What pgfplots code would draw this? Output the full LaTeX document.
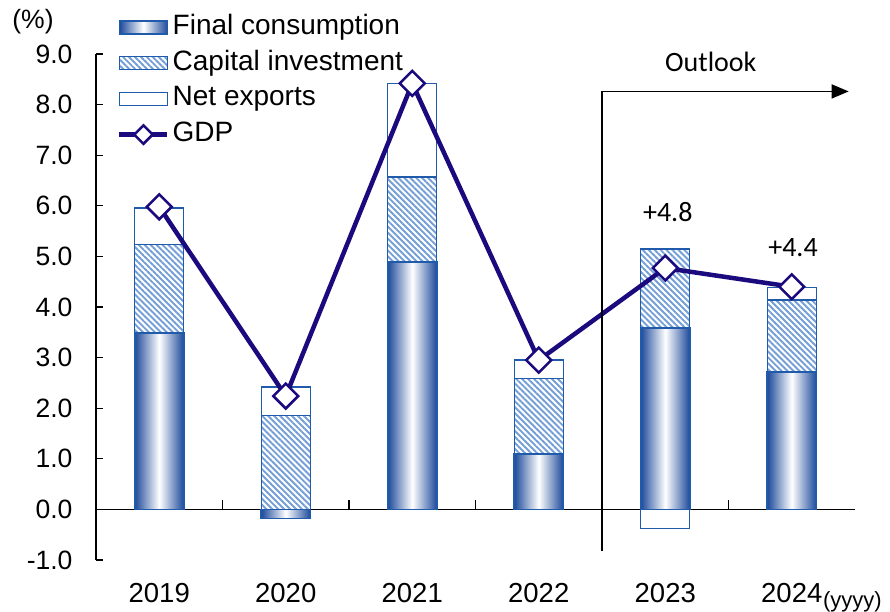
\documentclass[border=0pt]{standalone}
\usepackage{pgfplots}
\pgfplotsset{compat=1.18}
\usetikzlibrary{patterns.meta, arrows.meta}
\usepackage{fontspec}
\setmainfont{Liberation Sans}
\newfontfamily\calib{Carlito}

\definecolor{barblue}{RGB}{30,74,155}
\definecolor{edgeblue}{RGB}{32,90,170}
\definecolor{hatchblue}{RGB}{115,158,214}
\definecolor{gdpnavy}{RGB}{26,10,125}

\newcommand\bigfont{\fontsize{26.5}{30}\selectfont}

\pgfplotsset{
  barlegend/.style={legend image code/.code={\draw[##1] (0pt,-6.5pt) rectangle (48pt,6.5pt);}},
  gdplegend/.style={legend image code/.code={\draw[mark repeat=2, mark phase=2, ##1, mark size=6.5pt] plot coordinates {(0pt,0pt) (24pt,0pt) (48pt,0pt)};}},
  consbar/.style={draw=edgeblue, line width=1.8pt, left color=barblue, right color=barblue, middle color=white},
  invbar/.style={draw=edgeblue, line width=1.4pt, fill=white, postaction={pattern={Lines[angle=-45,distance=4.2pt,line width=1.9pt]}, pattern color=hatchblue}},
  nebar/.style={draw=edgeblue, line width=1.4pt, fill=white},
  gdpline/.style={sharp plot, gdpnavy, line width=4.5pt, mark=square*, mark size=8.8pt,
    mark options={rotate=45, fill=white, draw=gdpnavy, line width=2.5pt}},
}

\begin{document}
\begin{tikzpicture}
\path[use as bounding box] (-96pt,-51pt) rectangle (794pt,560pt);
\begin{axis}[
  at={(0pt,0pt)}, anchor=south west,
  scale only axis, width=759pt, height=506pt,
  ybar, bar shift=0pt, bar width=49pt,
  xmin=-0.5, xmax=5.5, ymin=-1, ymax=9,
  enlargelimits=false, clip=false,
  axis y line=left, axis x line=bottom,
  x axis line style={draw=none},
  y axis line style={-, line width=1.1pt},
  tick align=inside,
  major tick length=7pt,
  ytick={-1,0,...,9},
  ytick style={line width=1.1pt, black},
  xtick={0,...,5},
  xticklabels={2019,2020,2021,2022,2023,2024},
  xtick style={draw=none},
  tick label style={font=\bigfont},
  xticklabel style={font=\fontsize{27.5}{31}\selectfont},
  /pgf/number format/fixed,
  /pgf/number format/fixed zerofill,
  /pgf/number format/precision=1,
  /pgf/number format/assume math mode=true,
  yticklabel style={xshift=-20pt},
  xticklabel style={yshift=-20pt},
  legend style={at={(rel axis cs:0,1)}, anchor=north west, xshift=18pt, yshift=45pt,
    draw=none, fill=none, font=\fontsize{28}{32}\selectfont, row sep=3.8pt,
    nodes={text height=20pt, text depth=6pt, inner sep=3pt},
    /tikz/every even column/.append style={column sep=0pt}},
  legend cell align=left,
]
% legend in the reference order
\addlegendimage{consbar, barlegend}\addlegendentry{Final consumption}
\addlegendimage{invbar, barlegend}\addlegendentry{Capital investment}
\addlegendimage{nebar, barlegend}\addlegendentry{Net exports}
\addlegendimage{gdpline, gdplegend}\addlegendentry{GDP}

% zero line and separators between years
\draw[line width=1.1pt] (axis cs:-0.5,0) -- (axis cs:5.5,0);
\draw[line width=1.2pt] (axis cs:0.5,0) -- (axis cs:0.5,0.18);
\draw[line width=1.2pt] (axis cs:1.5,0) -- (axis cs:1.5,0.18);
\draw[line width=1.2pt] (axis cs:2.5,0) -- (axis cs:2.5,0.18);
\draw[line width=1.2pt] (axis cs:3.5,0) -- (axis cs:3.5,0.18);
\draw[line width=1.2pt] (axis cs:4.5,0) -- (axis cs:4.5,0.18);

% bars are drawn as cumulative tops, from back to front
% net exports: top of the stack
\addplot[nebar, forget plot]
  coordinates {(0,5.96) (1,2.42) (2,8.42) (3,2.95) (5,4.38)};
\addplot[nebar, forget plot] coordinates {(4,-0.38)};
% capital investment: top of its segment
\addplot[invbar, forget plot]
  coordinates {(0,5.23) (1,1.86) (2,6.57) (3,2.59) (4,5.15) (5,4.14)};
% final consumption, one plot per bar so each bar gets its own shading
\addplot[consbar, forget plot] coordinates {(0,3.49)};
\addplot[consbar, forget plot] coordinates {(1,-0.18)};
\addplot[consbar, forget plot] coordinates {(2,4.89)};
\addplot[consbar, forget plot] coordinates {(3,1.09)};
\addplot[consbar, forget plot] coordinates {(4,3.58)};
\addplot[consbar, forget plot] coordinates {(5,2.71)};
% GDP
\addplot[gdpline, forget plot]
  coordinates {(0,5.98) (1,2.24) (2,8.42) (3,2.95) (4,4.77) (5,4.40)};

% outlook marker
\draw[line width=1.5pt, -{Triangle[length=17pt,width=14pt]}] (axis cs:3.5,-0.83) -- (axis cs:3.5,8.26) -- (axis cs:5.45,8.26);
\node[font=\calib\fontsize{28}{32}\selectfont] at (axis cs:4.36,8.85) {Outlook};
\node[font=\calib\fontsize{28}{32}\selectfont] at (axis cs:4.02,5.88) {+4.8};
\node[font=\calib\fontsize{28}{32}\selectfont] at (axis cs:5.01,5.17) {+4.4};

\node[font=\bigfont] at ([xshift=-63pt, yshift=32pt]rel axis cs:0,1) {(\%)};
\node[font=\fontsize{22}{26}\selectfont, anchor=west] at ([yshift=-42pt]axis cs:5.22,-1) {(yyyy)};
\end{axis}
\end{tikzpicture}
\end{document}
